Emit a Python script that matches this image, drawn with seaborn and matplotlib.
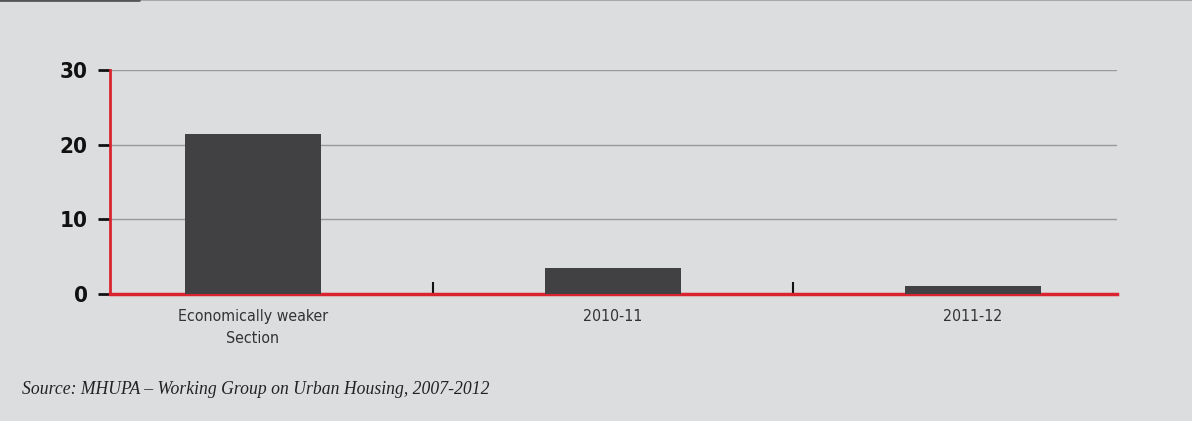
import seaborn as sns
import matplotlib.pyplot as plt
import pandas as pd

categorias = ['Economically weaker\nSection', '2010-11', '2011-12']
valores = [21.4, 3.5, 1.1]
yticks = [0, 10, 20, 30]

df = pd.DataFrame({'cat': categorias, 'val': valores})

bg = '#dcdddf'
vermelho = '#d9232e'

sns.set_style('white')
plt.rcParams['font.family'] = ['DejaVu Sans']

fig = plt.figure(figsize=(11.92, 4.21), dpi=100, facecolor=bg)
ax = fig.add_axes([110 / 1192, 1 - 294 / 421, 1007 / 1192, 224 / 421])
ax.set_facecolor(bg)

sns.barplot(data=df, x='cat', y='val', color='#414042', width=0.378,
            saturation=1, linewidth=0, ax=ax, zorder=3)

ax.set_xlim(-0.397, 2.4)
ax.set_ylim(0, 30)
ax.set_yticks(yticks)
ax.set_yticklabels([str(v) for v in yticks], fontsize=16, fontweight='bold',
                   color='#111111', fontstretch='condensed')
ax.yaxis.grid(True, color='#9a9a9a', linewidth=1)
ax.set_axisbelow(True)

ax.tick_params(axis='y', left=True, direction='out', length=9, width=2, color='#111111', pad=7)
ax.tick_params(axis='x', which='major', bottom=True, length=0, pad=11, labelsize=11.4, labelcolor='#333333')
ax.set_xticks([0.5, 1.5], minor=True)
ax.tick_params(axis='x', which='minor', bottom=True, direction='in', length=9, width=1.5, color='#111111')
for lbl in ax.get_xticklabels():
    lbl.set_linespacing(1.55)
    lbl.set_fontstretch('condensed')
    lbl.set_fontweight('light')

for s in ['top', 'right']:
    ax.spines[s].set_visible(False)
ax.spines['left'].set_color(vermelho)
ax.spines['bottom'].set_color(vermelho)
ax.spines['left'].set_linewidth(2)
ax.spines['bottom'].set_linewidth(2.5)
ax.set_xlabel('')
ax.set_ylabel('')

# linha superior
fig.add_artist(plt.Line2D([0, 1], [0.999, 0.999], color='#a8a9ab', linewidth=1.5, transform=fig.transFigure))
fig.add_artist(plt.Line2D([0, 139 / 1192], [0.999, 0.999], color='#555557', linewidth=2, transform=fig.transFigure))

fig.text(22 / 1192, 1 - 389 / 421, 'Source: MHUPA – Working Group on Urban Housing, 2007-2012',
         fontsize=12.7, style='italic', family=['Liberation Serif', 'DejaVu Serif'],
         color='#222222', va='center', ha='left')

plt.savefig('out.png', facecolor=bg)
